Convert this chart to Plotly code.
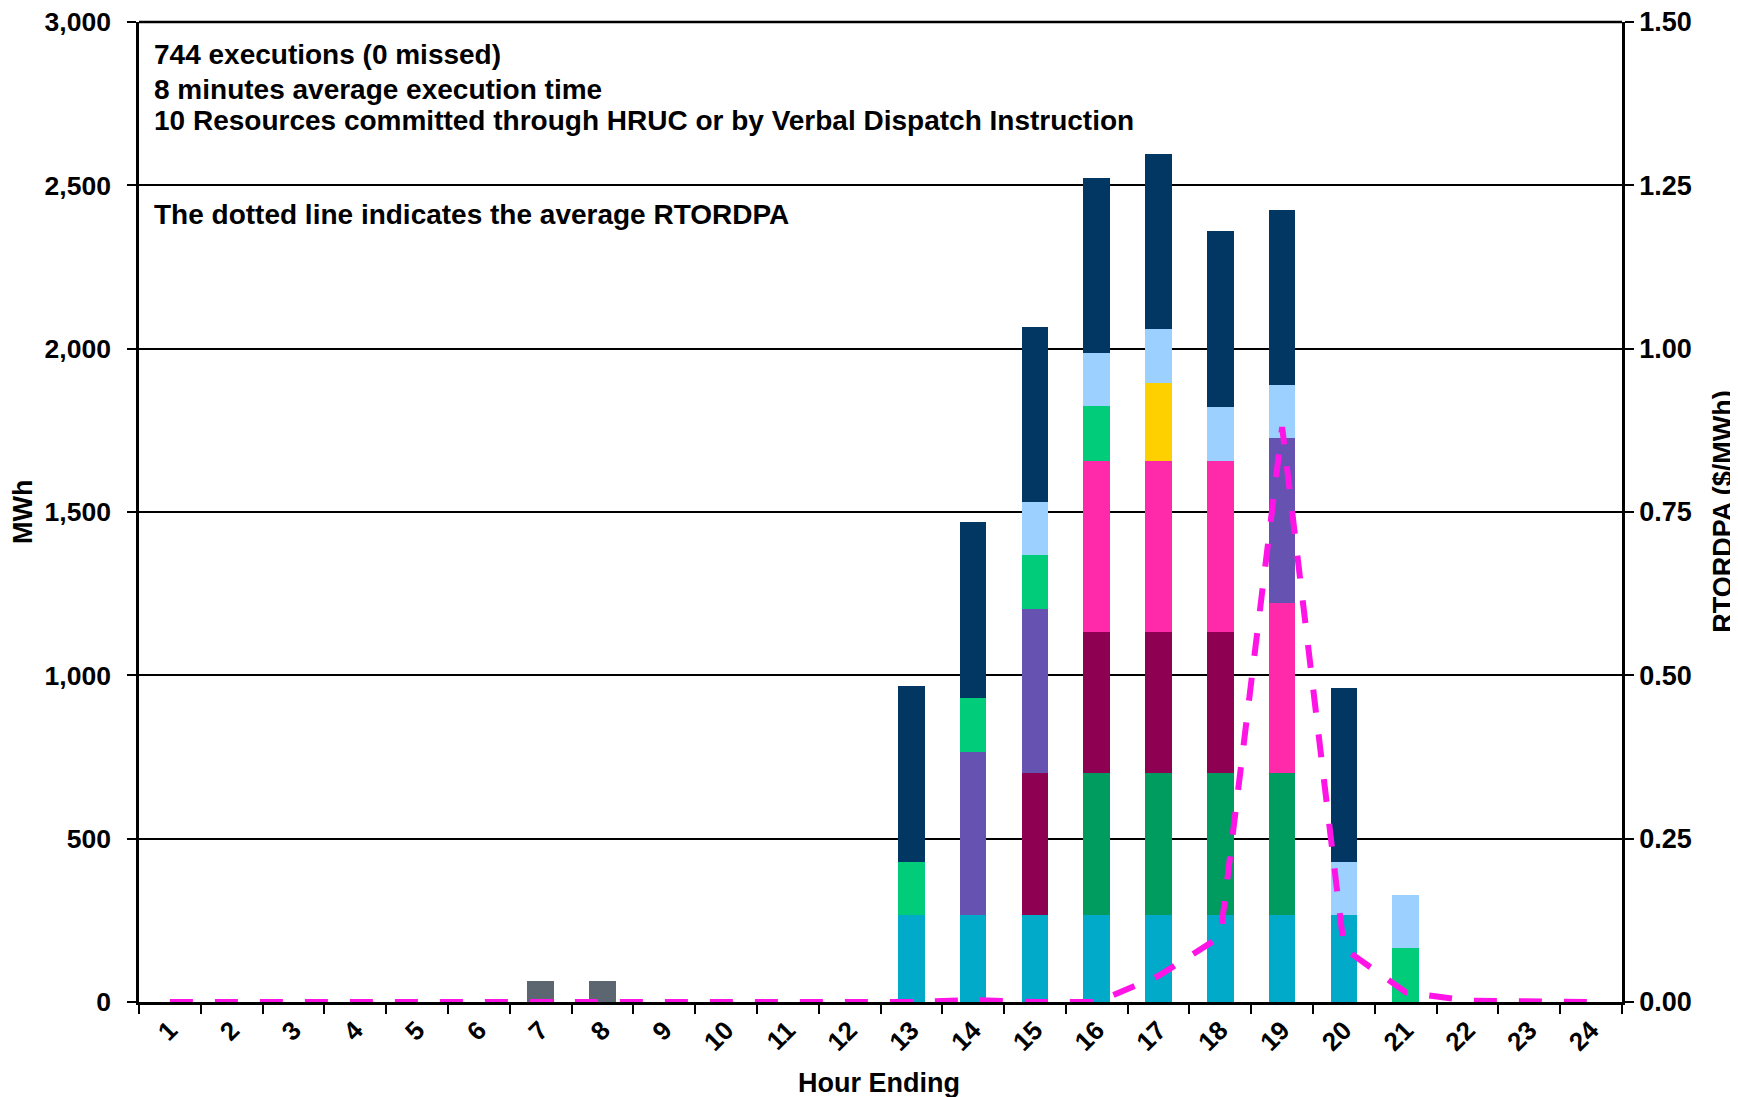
import plotly.graph_objects as go

hours = [str(h) for h in range(1, 25)]

# Stacked MWh segments per hour ending (None = no segment)
def seg(d):
    return [d.get(h) for h in range(1, 25)]

gray_vals = seg({7: 65, 8: 65})
teal_vals = seg({13: 265, 14: 265, 15: 265, 16: 265, 17: 265, 18: 265, 19: 265, 20: 265})
dkgreen_vals = seg({16: 435, 17: 435, 18: 435, 19: 435})
maroon_vals = seg({15: 435, 16: 432, 17: 432, 18: 432})
pink_vals = seg({16: 523, 17: 523, 18: 523, 19: 522})
purple_vals = seg({14: 500, 15: 502, 19: 505})
yellow_vals = seg({17: 240})
brgreen_vals = seg({13: 165, 14: 165, 15: 165, 16: 168, 21: 165})
ltblue_vals = seg({15: 163, 16: 165, 17: 165, 18: 165, 19: 163, 20: 165, 21: 163})
navy_vals = seg({13: 537, 14: 540, 15: 535, 16: 533, 17: 535, 18: 540, 19: 535, 20: 532})

rtordpa = [0, 0, 0, 0, 0, 0, 0, 0, 0, 0, 0, 0,
           0, 0.003, 0, 0, 0.04, 0.10, 0.88, 0.082, 0.015, 0.002, 0, 0]

series = [
    ("r1", gray_vals, "#5B6670"),
    ("r2", teal_vals, "#00AAC8"),
    ("r3", dkgreen_vals, "#009B5E"),
    ("r4", maroon_vals, "#8E0052"),
    ("r5", pink_vals, "#FF2AAA"),
    ("r6", purple_vals, "#6652B0"),
    ("r7", yellow_vals, "#FFD000"),
    ("r8", brgreen_vals, "#00CC7A"),
    ("r9", ltblue_vals, "#9CD0FF"),
    ("r10", navy_vals, "#023764"),
]

FONT = "Liberation Sans"

fig = go.Figure()
for name, vals, col in series:
    fig.add_trace(go.Bar(x=hours, y=vals, name=name, marker_color=col,
                         marker_line_width=0))

fig.add_trace(go.Scatter(x=hours, y=rtordpa, yaxis="y2", mode="lines",
                         line=dict(color="#FF14E6", width=6, dash="23px,22px"),
                         name="RTORDPA"))

fig.update_layout(
    width=1738, height=1097,
    margin=dict(l=131, r=124, t=14, b=103, autoexpand=False),
    paper_bgcolor="white", plot_bgcolor="white",
    barmode="stack", bargap=0.57,
    showlegend=False,
    font=dict(family=FONT, size=26, color="black", weight="bold"),
    xaxis=dict(type="category", categoryorder="array", categoryarray=hours,
               tickson="boundaries", ticks="outside", ticklen=9, tickwidth=2,
               tickcolor="black", tickangle=-45, automargin=False,
               showline=True, linecolor="black", linewidth=2.5, mirror=False,
               showgrid=False, ticklabeloverflow="allow",
               tickfont=dict(family=FONT, size=26, weight="bold")),
    yaxis=dict(range=[0, 3000], dtick=500, tickformat=",", automargin=False,
               ticks="outside", ticklen=9, tickwidth=2, tickcolor="black",
               ticklabelstandoff=11, ticklabeloverflow="allow",
               showline=True, linecolor="black", linewidth=2.5,
               showgrid=True, gridcolor="black", gridwidth=2,
               zeroline=False,
               tickfont=dict(family=FONT, size=26.5, weight="bold")),
    yaxis2=dict(range=[0, 1.5], dtick=0.25, tickformat=".2f", automargin=False,
                overlaying="y", side="right",
                ticks="outside", ticklen=9, tickwidth=2, tickcolor="black",
                ticklabeloverflow="allow",
                showline=True, linecolor="black", linewidth=2.5,
                showgrid=False, zeroline=False,
                tickfont=dict(family=FONT, size=27, weight="bold")),
)

# top border line
fig.add_shape(type="line", xref="paper", yref="paper", x0=0, x1=1, y0=1, y1=1,
              line=dict(color="black", width=2.5))

def ann(text, x, y, size=28, **kw):
    d = dict(text=text, x=x, y=y, xref="paper", yref="paper", showarrow=False,
             font=dict(family=FONT, size=size, color="black", weight="bold"))
    d.update(kw)
    fig.add_annotation(**d)

ann("744 executions (0 missed)", 0.0086, 0.9673, xanchor="left", yanchor="middle")
ann("8 minutes average execution time", 0.0086, 0.9316, xanchor="left", yanchor="middle")
ann("10 Resources committed through HRUC or by Verbal Dispatch Instruction", 0.0086, 0.899,
    xanchor="left", yanchor="middle")
ann("The dotted line indicates the average RTORDPA", 0.0086, 0.804, xanchor="left", yanchor="middle")

ann("MWh", -0.0782, 0.5, size=27, xanchor="center", yanchor="middle", textangle=-90)
ann("RTORDPA ($/MWh)", 1.068, 0.5, size=27, xanchor="center", yanchor="middle", textangle=-90)
ann("Hour Ending", 0.4993, -0.0827, size=27, xanchor="center", yanchor="middle")

fig.write_html("out.html")
